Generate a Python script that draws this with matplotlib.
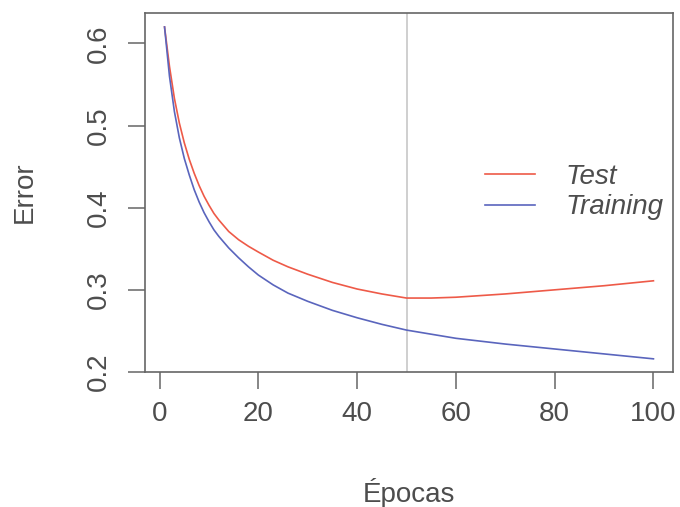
import matplotlib
matplotlib.use('Agg')
import matplotlib.pyplot as plt

# error per epoch for both curves
epochs = [1, 2, 3, 4, 5, 6, 7, 8, 9, 10, 11, 12, 14, 16, 18, 20, 23, 26, 30,
          35, 40, 45, 50, 55, 60, 70, 80, 90, 100]
test_err = [0.620, 0.572, 0.533, 0.503, 0.479, 0.459, 0.442, 0.427, 0.414, 0.403, 0.393, 0.385,
            0.371, 0.361, 0.353, 0.346, 0.336, 0.328, 0.319, 0.309, 0.301, 0.295, 0.290, 0.290,
            0.291, 0.295, 0.300, 0.305, 0.311]
train_err = [0.620, 0.560, 0.517, 0.485, 0.460, 0.440, 0.422, 0.407, 0.394, 0.383, 0.373, 0.365,
             0.351, 0.339, 0.328, 0.318, 0.306, 0.296, 0.286, 0.275, 0.266, 0.258, 0.251, 0.246,
             0.241, 0.234, 0.228, 0.222, 0.216]
best_epoch = 50
x_ticks = [0, 20, 40, 60, 80, 100]
y_ticks = [0.2, 0.3, 0.4, 0.5, 0.6]

txt = '#4d4d4d'
axc = '#666666'
plt.rcParams['font.family'] = ['Liberation Sans', 'DejaVu Sans']

fig = plt.figure(figsize=(6.8, 5.07), dpi=100)
ax = fig.add_axes([0.2132, 0.2663, 0.7765, 0.7081])

ax.axvline(best_epoch, color='#cccccc', lw=1.3, zorder=1)
ax.plot(epochs, test_err, color='#ee5a48', lw=1.2, label='Test', zorder=3)
ax.plot(epochs, train_err, color='#5a65bd', lw=1.2, label='Training', zorder=3)

ax.set_xlim(-2.96, 103.96)
ax.set_ylim(0.2, 0.637)
ax.set_xticks(x_ticks)
ax.set_yticks(y_ticks)
ax.set_xticklabels([str(v) for v in x_ticks])
ax.set_yticklabels(['%.1f' % v for v in y_ticks], rotation=90, va='center')

for s in ax.spines.values():
    s.set_color(axc)
    s.set_linewidth(1.2)
ax.tick_params(axis='both', direction='out', length=12, width=1.1, color=axc,
               labelsize=20, labelcolor=txt)
ax.tick_params(axis='x', pad=9)
ax.tick_params(axis='y', pad=12)

ax.set_xlabel('Épocas', fontsize=20, color=txt)
ax.set_ylabel('Error', fontsize=20, color=txt)
ax.xaxis.label.set_va('center')
ax.yaxis.label.set_va('center')
ax.xaxis.set_label_coords(0.5, -0.337)
ax.yaxis.set_label_coords(-0.227, 0.501)

leg = ax.legend(loc='upper left', bbox_to_anchor=(0.644, 0.579), borderaxespad=0,
                frameon=False, borderpad=0, handlelength=1.8, handletextpad=1.08,
                labelspacing=0.15, prop={'style': 'italic', 'size': 20})
for t in leg.get_texts():
    t.set_color(txt)

fig.savefig('out.png', dpi=100)
